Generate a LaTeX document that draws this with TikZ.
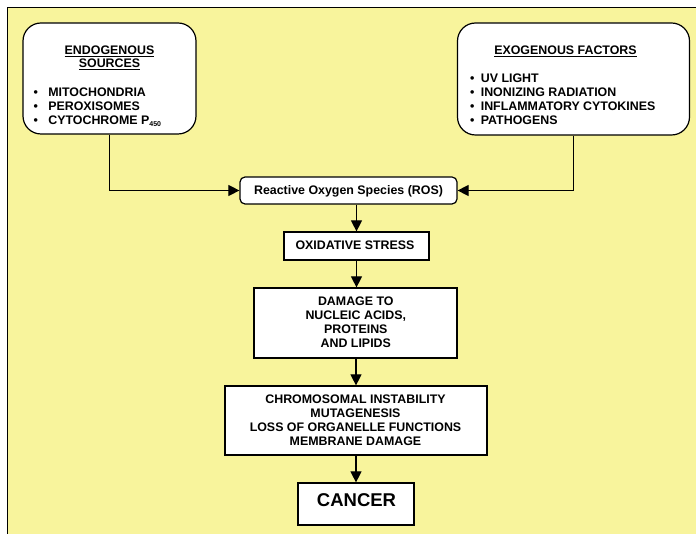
\documentclass[tikz,border=0pt]{standalone}
\usepackage{fontspec}
\setmainfont{Liberation Sans}
\usetikzlibrary{arrows.meta}
\definecolor{bgyellow}{RGB}{248,244,156}
\newcommand{\txtfont}{\bfseries\fontsize{12.4}{14}\selectfont}
\newcommand{\bigfont}{\bfseries\fontsize{18.5}{22}\selectfont}
\begin{document}
\begin{tikzpicture}[x=1pt,y=-1pt,
  box/.style={draw, line width=1.2pt, fill=white, inner sep=0pt},
  rbox/.style={box, rounded corners=18pt},
  sbox/.style={box, rounded corners=5pt},
  arr/.style={line width=1.1pt, -{Triangle[length=11pt,width=11pt]}},
  txt/.style={inner sep=0pt, font=\txtfont},
  ]
\useasboundingbox (0,0) rectangle (696,534);
\fill[white] (0,0) rectangle (696,534);
\fill[bgyellow] (7.5,7.5) rectangle (696,534);
\draw[line width=1.2pt] (7.5,534) -- (7.5,7.5) -- (696,7.5);

% boxes
\node[rbox, minimum width=173pt, minimum height=111pt] (endo) at (109.5,78.5) {};
\node[rbox, minimum width=232pt, minimum height=112pt] (exo) at (573.5,79) {};
\node[sbox, minimum width=217pt, minimum height=27pt] (ros) at (348.5,190.5) {};
\node[box, minimum width=145pt, minimum height=28pt] (ox) at (356.5,246) {};
\node[box, minimum width=203pt, minimum height=70pt] (dmg) at (355.5,323) {};
\node[box, minimum width=262pt, minimum height=69pt] (chr) at (356,420.5) {};
\node[box, minimum width=116pt, minimum height=42pt] (can) at (356,504) {};

% texts
\node[txt, anchor=base] (endot) at (109.5,55)
  {\begin{tabular}[t]{@{}c@{}}\underline{ENDOGENOUS}\\[-1pt]\underline{SOURCES}\end{tabular}};
\node[txt, anchor=base west] (endol) at (33.5,97)
  {\begin{tabular}[t]{@{}l@{\hspace{10.3pt}}l@{}}\textbullet & MITOCHONDRIA\\ \textbullet & PEROXISOMES\\ \textbullet & CYTOCHROME P\raisebox{-2pt}{\fontsize{7}{7}\selectfont 450}\end{tabular}};
\node[txt, anchor=base] (exot) at (565.5,54.3) {\underline{EXOGENOUS FACTORS}};
\node[txt, anchor=base west] (exol) at (470,82.3)
  {\begin{tabular}[t]{@{}l@{\hspace{6.3pt}}l@{}}\textbullet & UV LIGHT\\ \textbullet & INONIZING RADIATION\\ \textbullet & INFLAMMATORY CYTOKINES\\ \textbullet & PATHOGENS\end{tabular}};
\node[txt, anchor=base] (rost) at (348.5,194.3) {Reactive Oxygen Species (ROS)};
\node[txt, anchor=base] (oxt) at (355,249.3) {OXIDATIVE STRESS};
\node[txt, anchor=base] (dmgt) at (355.8,305.7)
  {\begin{tabular}[t]{@{}c@{}}DAMAGE TO\\ NUCLEIC ACIDS,\\ PROTEINS\\ AND LIPIDS\end{tabular}};
\node[txt, anchor=base] (chrt) at (355.5,403)
  {\begin{tabular}[t]{@{}c@{}}CHROMOSOMAL INSTABILITY\\ MUTAGENESIS\\ LOSS OF ORGANELLE FUNCTIONS\\ MEMBRANE DAMAGE\end{tabular}};
\node[inner sep=0pt, font=\bigfont, anchor=base] (cant) at (356.5,506.7) {CANCER};

% connectors
\draw[arr] (endo.south) |- (ros.west);
\draw[arr] (exo.south) |- (ros.east);
\draw[arr] (ox.north |- ros.south) -- (ox.north);
\draw[arr] (ox.south) -- (dmg.north -| ox.south);
\draw[arr] (dmg.south -| chr.north) -- (chr.north);
\draw[arr] (chr.south) -- (can.north);
\end{tikzpicture}
\end{document}
